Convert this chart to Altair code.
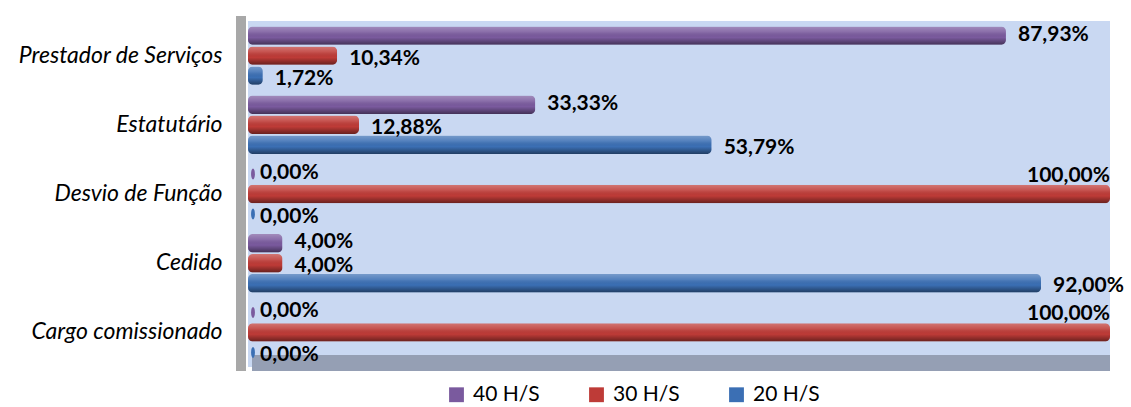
import altair as alt
import pandas as pd

categories = ["Prestador de Serviços", "Estatutário", "Desvio de Função", "Cedido", "Cargo comissionado"]
series = ["40 H/S", "30 H/S", "20 H/S"]
h40 = [87.93, 33.33, 0.00, 4.00, 0.00]
h30 = [10.34, 12.88, 100.00, 4.00, 100.00]
h20 = [1.72, 53.79, 0.00, 92.00, 0.00]
colors = ["#7A5A9E", "#BE3B37", "#3B6FB4"]

rows = []
for s, vals in zip(series, [h40, h30, h20]):
    for c, v in zip(categories, vals):
        rows.append({"cat": c, "serie": s, "val": v,
                     "lab": f"{v:.2f}".replace(".", ",") + "%"})
df = pd.DataFrame(rows)

W, H = 862, 346
FONT = "Lato"

y_enc = alt.Y("cat:N", sort=categories, title=None,
              scale=alt.Scale(paddingInner=0, paddingOuter=0),
              axis=alt.Axis(domain=False, ticks=False, labelFontStyle="italic",
                            labelFontSize=23, labelFont=FONT, labelColor="#000",
                            labelPadding=26, labelLimit=400,
                            minExtent=240, maxExtent=240))
yo_enc = alt.YOffset("serie:N", sort=series,
                     scale=alt.Scale(paddingInner=0.08, paddingOuter=0.27))
x_enc = alt.X("val:Q", scale=alt.Scale(domain=[0, 100], nice=False),
              axis=None, title=None)

base = alt.Chart(df)

bars = base.mark_bar(cornerRadius=5).encode(
    x=x_enc, y=y_enc, yOffset=yo_enc,
    color=alt.Color("serie:N", sort=series,
                    scale=alt.Scale(domain=series, range=colors),
                    legend=alt.Legend(title=None, orient="none", direction="horizontal",
                                      legendX=198, legendY=363,
                                      symbolType="square", symbolSize=220,
                                      symbolStrokeWidth=0,
                                      labelFont=FONT, labelFontSize=21,
                                      labelColor="#000", columnPadding=46,
                                      labelOffset=6)),
)

grad = alt.Gradient(gradient="linear", x1=0, x2=0, y1=0, y2=1, stops=[
    alt.GradientStop(offset=0, color="rgba(255,255,255,0.30)"),
    alt.GradientStop(offset=0.3, color="rgba(255,255,255,0.12)"),
    alt.GradientStop(offset=0.6, color="rgba(0,0,0,0.0)"),
    alt.GradientStop(offset=1, color="rgba(0,0,0,0.45)"),
])
shade = base.mark_bar(cornerRadius=5, color=grad).encode(
    x=x_enc, y=y_enc, yOffset=yo_enc)

zeros = base.transform_filter("datum.val == 0").mark_point(
    shape="M0,-1 A0.35,1 0 1,1 0,1 A0.35,1 0 1,1 0,-1 Z",
    filled=True, size=120, opacity=1).encode(
    x=x_enc, y=y_enc, yOffset=yo_enc, xOffset=alt.value(5),
    color=alt.Color("serie:N", sort=series, legend=None,
                    scale=alt.Scale(domain=series, range=colors)))

txt_style = dict(font=FONT, fontSize=21, fontWeight="bold", color="#000")
lab_top = base.transform_filter("datum.val < 95 && datum.serie == '40 H/S'").mark_text(
    align="left", baseline="middle", dx=12, dy=-1, **txt_style).encode(
    x=x_enc, y=y_enc, yOffset=yo_enc, text="lab:N")
lab_rest = base.transform_filter("datum.val < 95 && datum.serie != '40 H/S'").mark_text(
    align="left", baseline="middle", dx=12, dy=3, **txt_style).encode(
    x=x_enc, y=y_enc, yOffset=yo_enc, text="lab:N")
lab_big = base.transform_filter("datum.val >= 95").mark_text(
    align="right", baseline="middle", dx=0, dy=-18, **txt_style).encode(
    x=x_enc, y=y_enc, yOffset=yo_enc, text="lab:N")

one = alt.Chart(pd.DataFrame({"a": [0]}))
floor = one.mark_rect(color="#959FB4").encode(
    x=alt.value(4), x2=alt.value(W), y=alt.value(H - 12), y2=alt.value(H + 4))
wall = one.mark_rect(color="#A8A8A8").encode(
    x=alt.value(-12), x2=alt.value(-2), y=alt.value(-5), y2=alt.value(H + 4))

chart = alt.layer(floor, wall, bars, shade, zeros, lab_top, lab_rest, lab_big).properties(
    width=W, height=H,
    padding={"left": 8, "top": 16, "right": 0, "bottom": 0},
).configure_view(fill="#C9D8F2", stroke=None)

chart.save("out.html", embed_options={"renderer": "svg", "actions": False})
